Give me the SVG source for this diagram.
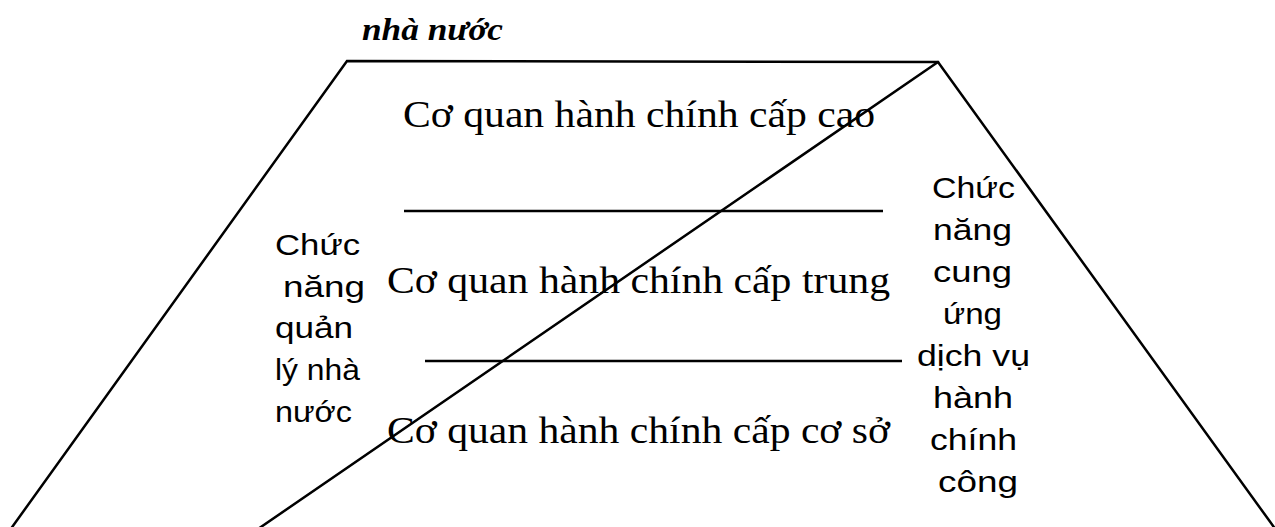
<svg xmlns="http://www.w3.org/2000/svg" width="1275" height="527" viewBox="0 0 1275 527">
<style>
.ln{stroke:#000;stroke-width:2.5;fill:none;stroke-linecap:round;stroke-linejoin:miter}
.sep{stroke:#000;stroke-width:2.5;fill:none}
.lvl{font-family:"Liberation Serif","Times New Roman",serif;font-size:38px;fill:#000}
.ttl{font-family:"Liberation Serif","Times New Roman",serif;font-size:32px;font-weight:bold;font-style:italic;fill:#000}
.fn{font-family:"Liberation Sans",Arial,sans-serif;font-size:30px;fill:#000}
</style>
<rect width="1275" height="527" fill="#fff"/>
<g id="frame">
<polyline class="ln" points="10,530 347,61 938,62 1276,530"/>
</g>
<g id="title">
<text class="ttl" x="362" y="40" textLength="141" lengthAdjust="spacingAndGlyphs">nhà nước</text>
</g>
<g id="level-high">
<text class="lvl" x="403" y="127" textLength="472" lengthAdjust="spacingAndGlyphs">Cơ quan hành chính cấp cao</text>
</g>
<g id="level-mid">
<text class="lvl" x="387" y="293" textLength="503" lengthAdjust="spacingAndGlyphs">Cơ quan hành chính cấp trung</text>
</g>
<g id="level-base">
<text class="lvl" x="387" y="443" textLength="503" lengthAdjust="spacingAndGlyphs">Cơ quan hành chính cấp cơ sở</text>
</g>
<g id="left-function">
<text class="fn" x="275" y="255" textLength="85" lengthAdjust="spacingAndGlyphs">Chức</text>
<text class="fn" x="283" y="297" textLength="82" lengthAdjust="spacingAndGlyphs">năng</text>
<text class="fn" x="275" y="338" textLength="78" lengthAdjust="spacingAndGlyphs">quản</text>
<text class="fn" x="275" y="380" textLength="85" lengthAdjust="spacingAndGlyphs">lý nhà</text>
<text class="fn" x="275" y="422" textLength="77" lengthAdjust="spacingAndGlyphs">nước</text>
</g>
<g id="right-function">
<text class="fn" x="932" y="198" textLength="83" lengthAdjust="spacingAndGlyphs">Chức</text>
<text class="fn" x="933" y="240" textLength="79" lengthAdjust="spacingAndGlyphs">năng</text>
<text class="fn" x="933" y="282" textLength="79" lengthAdjust="spacingAndGlyphs">cung</text>
<text class="fn" x="943" y="324" textLength="59" lengthAdjust="spacingAndGlyphs">ứng</text>
<text class="fn" x="917" y="366" textLength="113" lengthAdjust="spacingAndGlyphs">dịch vụ</text>
<text class="fn" x="933" y="408" textLength="80" lengthAdjust="spacingAndGlyphs">hành</text>
<text class="fn" x="930" y="450" textLength="87" lengthAdjust="spacingAndGlyphs">chính</text>
<text class="fn" x="938" y="492" textLength="80" lengthAdjust="spacingAndGlyphs">công</text>
</g>
<g id="connectors">
<line class="sep" x1="404" y1="211" x2="883" y2="211"/>
<line class="sep" x1="425" y1="361" x2="902" y2="361"/>
<line class="ln" x1="938" y1="62" x2="258" y2="529"/>
</g>
</svg>
